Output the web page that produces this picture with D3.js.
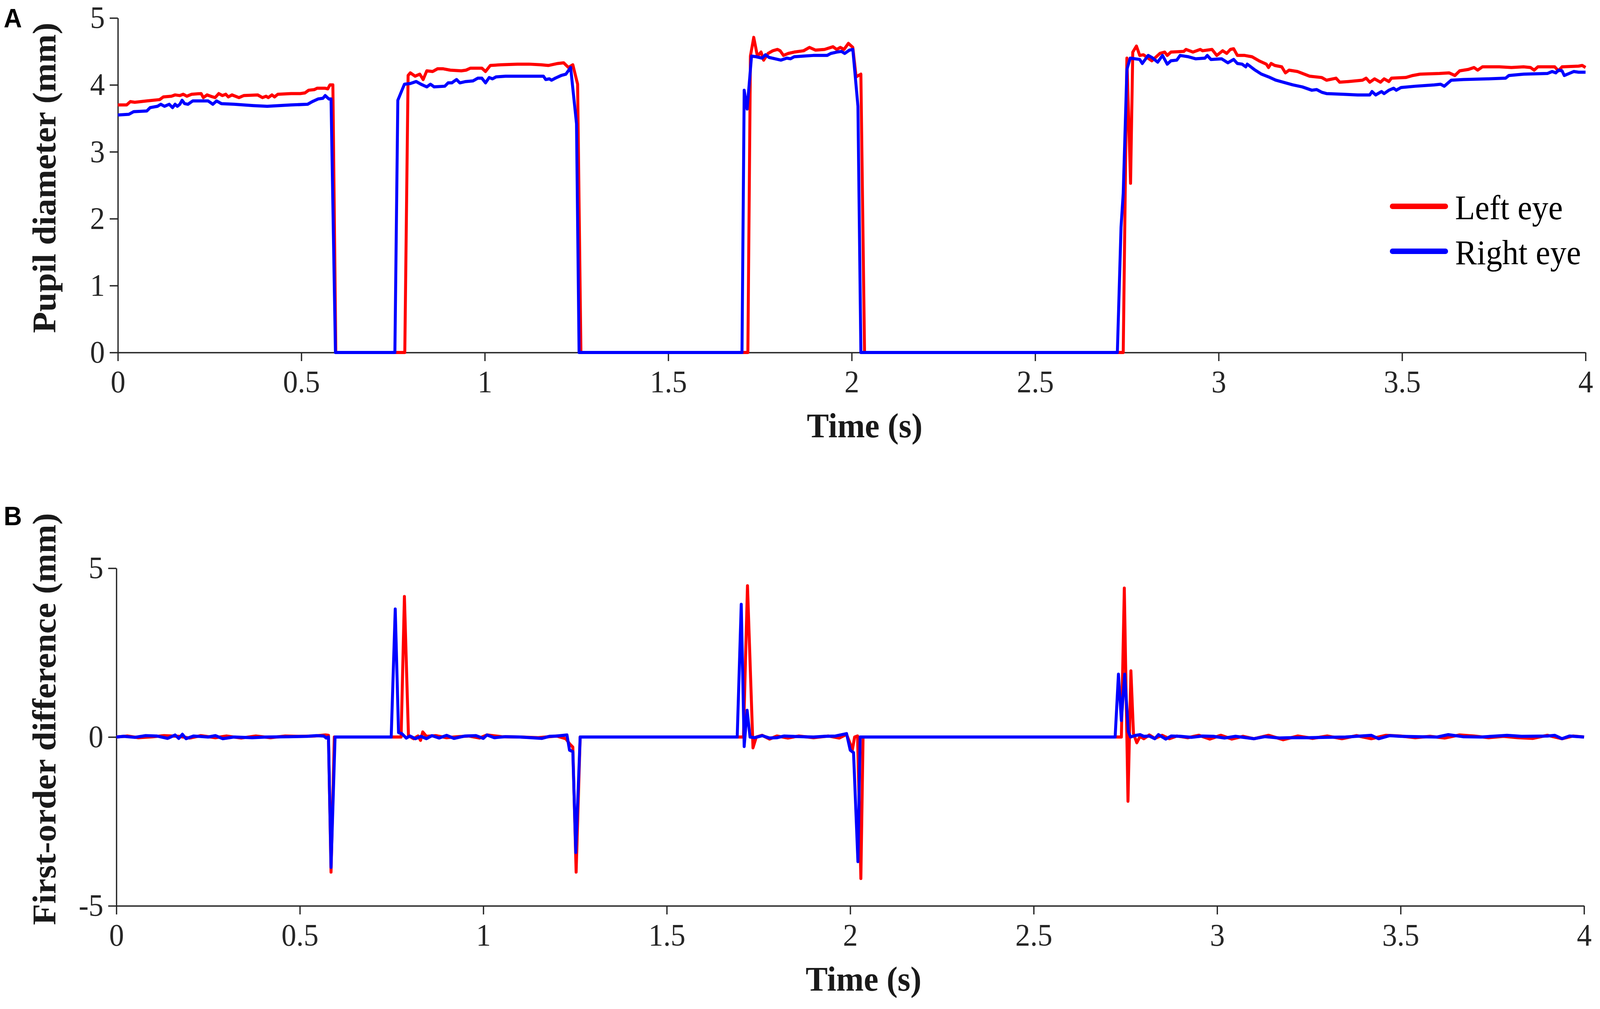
<!DOCTYPE html>
<html>
<head>
<meta charset="utf-8">
<script src="https://cdn.jsdelivr.net/npm/d3@7"></script>
<style>
  html, body { margin: 0; padding: 0; background: #ffffff; overflow: hidden; width: 100%; height: 100%; }
  svg { display: block; width: 100vw; height: 100vh; }
</style>
</head>
<body>
<script>
// ---------------- DATA ----------------
const seriesNames = ["Left eye", "Right eye"];
const seriesColors = ["#ff0000", "#0000ff"];

const timeTicks = [0, 0.5, 1, 1.5, 2, 2.5, 3, 3.5, 4];
const timeTickLabels = ["0", "0.5", "1", "1.5", "2", "2.5", "3", "3.5", "4"];
const pupilTicks = [0, 1, 2, 3, 4, 5];
const pupilTickLabels = ["0", "1", "2", "3", "4", "5"];
const diffTicks = [-5, 0, 5];
const diffTickLabels = ["-5", "0", "5"];

// Panel A: pupil diameter (mm) vs time (s)
const leftEyePupil = [
  [0,3.70],[0.024,3.70],[0.034,3.75],[0.046,3.74],[0.079,3.76],[0.114,3.78],[0.124,3.82],[0.146,3.83],
  [0.156,3.85],[0.169,3.84],[0.178,3.86],[0.188,3.83],[0.201,3.86],[0.227,3.87],[0.233,3.81],[0.243,3.85],
  [0.253,3.83],[0.265,3.81],[0.275,3.87],[0.285,3.84],[0.294,3.86],[0.301,3.82],[0.311,3.85],[0.330,3.81],
  [0.343,3.84],[0.381,3.85],[0.394,3.81],[0.404,3.83],[0.410,3.81],[0.420,3.85],[0.427,3.82],[0.436,3.86],
  [0.472,3.87],[0.497,3.87],[0.510,3.88],[0.520,3.92],[0.536,3.93],[0.543,3.95],[0.565,3.95],[0.572,3.94],
  [0.578,4.00],[0.586,4.00],[0.594,0],
  [0.782,0],[0.791,4.14],[0.797,4.18],[0.810,4.13],[0.823,4.16],[0.832,4.08],[0.842,4.21],[0.858,4.20],
  [0.871,4.24],[0.887,4.24],[0.906,4.22],[0.936,4.21],[0.949,4.22],[0.961,4.25],[0.992,4.25],[1.002,4.20],
  [1.015,4.29],[1.044,4.30],[1.089,4.31],[1.121,4.31],[1.153,4.30],[1.173,4.29],[1.199,4.32],[1.215,4.33],
  [1.228,4.26],[1.240,4.30],[1.253,4.01],[1.262,0],
  [1.717,0],[1.724,4.43],[1.733,4.71],[1.743,4.43],[1.753,4.49],[1.760,4.37],[1.772,4.47],[1.785,4.51],
  [1.798,4.53],[1.805,4.51],[1.814,4.44],[1.827,4.47],[1.843,4.49],[1.869,4.51],[1.885,4.56],[1.901,4.52],
  [1.926,4.53],[1.949,4.57],[1.959,4.53],[1.969,4.56],[1.979,4.53],[1.991,4.62],[2.003,4.56],[2.012,4.12],
  [2.025,4.16],[2.035,0],
  [2.740,0],[2.750,4.40],[2.760,2.53],[2.766,4.49],[2.776,4.58],[2.785,4.44],[2.795,4.45],[2.818,4.36],
  [2.840,4.47],[2.853,4.49],[2.860,4.44],[2.870,4.49],[2.905,4.50],[2.911,4.53],[2.930,4.49],[2.950,4.53],
  [2.956,4.51],[2.982,4.53],[2.995,4.44],[3.011,4.51],[3.022,4.47],[3.032,4.53],[3.041,4.54],[3.051,4.44],
  [3.071,4.44],[3.091,4.42],[3.110,4.36],[3.130,4.31],[3.136,4.26],[3.143,4.32],[3.153,4.29],[3.172,4.27],
  [3.182,4.18],[3.192,4.22],[3.215,4.20],[3.248,4.13],[3.281,4.11],[3.294,4.07],[3.320,4.10],[3.330,4.04],
  [3.353,4.05],[3.392,4.07],[3.402,4.10],[3.412,4.04],[3.425,4.09],[3.441,4.04],[3.451,4.09],[3.464,4.05],
  [3.471,4.10],[3.510,4.11],[3.529,4.14],[3.549,4.16],[3.602,4.17],[3.628,4.18],[3.644,4.14],[3.657,4.21],
  [3.680,4.23],[3.696,4.26],[3.706,4.22],[3.719,4.27],[3.765,4.27],[3.798,4.26],[3.831,4.27],[3.850,4.26],
  [3.860,4.22],[3.870,4.27],[3.916,4.27],[3.926,4.21],[3.936,4.27],[3.981,4.28],[3.991,4.29],[4.0,4.26]
];

const rightEyePupil = [
  [0,3.55],[0.030,3.56],[0.043,3.60],[0.079,3.61],[0.088,3.66],[0.108,3.68],[0.117,3.71],[0.127,3.68],
  [0.140,3.71],[0.149,3.66],[0.156,3.71],[0.162,3.68],[0.169,3.71],[0.175,3.77],[0.182,3.72],[0.191,3.71],
  [0.204,3.76],[0.246,3.76],[0.259,3.71],[0.269,3.76],[0.282,3.72],[0.317,3.71],[0.369,3.69],[0.407,3.68],
  [0.472,3.70],[0.517,3.71],[0.530,3.75],[0.546,3.79],[0.559,3.80],[0.565,3.84],[0.575,3.79],[0.581,3.79],
  [0.593,0],
  [0.755,0],[0.763,3.77],[0.781,4.01],[0.797,4.02],[0.813,4.05],[0.826,4.01],[0.842,3.97],[0.852,4.01],
  [0.862,3.97],[0.891,3.98],[0.900,4.03],[0.910,4.03],[0.923,4.08],[0.932,4.03],[0.948,4.05],[0.968,4.06],
  [0.981,4.10],[0.992,4.10],[1.002,4.03],[1.012,4.11],[1.021,4.09],[1.031,4.12],[1.057,4.13],[1.121,4.13],
  [1.160,4.13],[1.166,4.08],[1.176,4.09],[1.182,4.07],[1.192,4.10],[1.208,4.14],[1.221,4.16],[1.234,4.26],
  [1.250,3.42],[1.257,0],
  [1.701,0],[1.707,3.92],[1.715,3.64],[1.727,4.43],[1.740,4.42],[1.756,4.40],[1.765,4.45],[1.775,4.41],
  [1.791,4.39],[1.807,4.37],[1.823,4.40],[1.833,4.39],[1.843,4.42],[1.869,4.43],[1.895,4.44],[1.933,4.44],
  [1.943,4.47],[1.959,4.49],[1.972,4.50],[1.981,4.47],[1.994,4.52],[2.003,4.53],[2.017,3.68],[2.025,0],
  [2.724,0],[2.734,1.87],[2.740,2.38],[2.750,4.23],[2.759,4.40],[2.785,4.38],[2.792,4.32],[2.808,4.44],
  [2.818,4.41],[2.834,4.34],[2.847,4.44],[2.860,4.31],[2.870,4.36],[2.886,4.37],[2.895,4.44],[2.918,4.42],
  [2.937,4.39],[2.963,4.40],[2.969,4.44],[2.979,4.38],[3.008,4.39],[3.025,4.33],[3.041,4.38],[3.051,4.32],
  [3.064,4.31],[3.074,4.27],[3.078,4.31],[3.097,4.23],[3.117,4.16],[3.136,4.12],[3.156,4.07],[3.176,4.04],
  [3.202,4.00],[3.228,3.97],[3.254,3.92],[3.267,3.93],[3.281,3.89],[3.294,3.87],[3.340,3.86],[3.379,3.85],
  [3.412,3.85],[3.418,3.90],[3.428,3.85],[3.444,3.90],[3.451,3.87],[3.464,3.92],[3.477,3.95],[3.484,3.92],
  [3.497,3.96],[3.536,3.98],[3.588,4.00],[3.605,4.01],[3.615,3.98],[3.634,4.07],[3.667,4.08],[3.733,4.09],
  [3.782,4.10],[3.791,4.14],[3.831,4.16],[3.896,4.17],[3.909,4.20],[3.919,4.18],[3.926,4.22],[3.936,4.21],
  [3.942,4.14],[3.955,4.17],[3.968,4.20],[3.981,4.19],[4.0,4.19]
];

// Panel B: first-order difference (mm) vs time (s)
const leftEyeDiff = [
  [0,0],[0.03,0.03],[0.06,-0.02],[0.10,0.01],[0.13,0.04],[0.17,0.02],[0.20,-0.03],[0.23,0.04],[0.27,-0.02],
  [0.30,0.03],[0.34,-0.03],[0.38,0.03],[0.42,-0.02],[0.46,0.03],[0.50,0.02],[0.54,0.03],[0.57,0.06],
  [0.578,0.05],[0.585,-4.0],[0.594,0],
  [0.776,0],[0.785,4.16],[0.796,0.04],[0.81,-0.05],[0.822,0.03],[0.829,-0.10],[0.835,0.15],[0.845,0.02],
  [0.87,0.04],[0.90,-0.02],[0.93,0.01],[0.96,0.03],[0.99,-0.03],[1.01,0.06],[1.05,0.01],[1.10,0],
  [1.15,-0.02],[1.20,0.03],[1.225,-0.05],[1.235,-0.20],[1.244,-0.30],[1.253,-4.0],[1.264,0],
  [1.709,0],[1.720,4.48],[1.735,-0.32],[1.744,0],[1.76,0.05],[1.78,-0.06],[1.80,0.03],[1.83,-0.03],
  [1.86,0.03],[1.90,-0.02],[1.94,0.03],[1.97,-0.03],[1.99,0.08],[2.0,-0.2],[2.005,-0.43],[2.012,0],
  [2.02,0.03],[2.029,-4.19],[2.035,0],
  [2.739,0],[2.747,4.41],[2.757,-1.90],[2.765,1.96],[2.772,0.10],[2.781,-0.17],[2.79,0.02],[2.80,-0.05],
  [2.815,0.06],[2.83,-0.04],[2.85,0.05],[2.87,-0.05],[2.89,0.03],[2.92,-0.02],[2.95,0.05],[2.98,-0.06],
  [3.01,0.05],[3.04,-0.06],[3.07,0.02],[3.10,-0.05],[3.14,0.05],[3.18,-0.08],[3.22,0.03],[3.26,-0.04],
  [3.30,0.03],[3.34,-0.05],[3.38,0.04],[3.42,-0.05],[3.46,0.05],[3.50,0.03],[3.54,-0.02],[3.58,0.02],
  [3.62,-0.03],[3.66,0.06],[3.70,0.03],[3.74,-0.02],[3.78,0.02],[3.82,-0.02],[3.86,-0.04],[3.90,0.05],
  [3.94,-0.05],[3.97,0.03],[4.0,0]
];

const rightEyeDiff = [
  [0,0],[0.02,0.02],[0.05,-0.01],[0.08,0.04],[0.11,0.03],[0.14,-0.04],[0.16,0.06],[0.17,-0.04],[0.18,0.08],
  [0.19,-0.05],[0.21,0.03],[0.25,0],[0.27,0.04],[0.29,-0.05],[0.32,0],[0.37,-0.02],[0.41,0],[0.47,0.01],
  [0.52,0.02],[0.545,0.04],[0.565,0.03],[0.572,-0.03],[0.578,0],[0.585,-3.86],[0.596,0],
  [0.749,0],[0.760,3.79],[0.769,0.13],[0.778,0.10],[0.79,-0.03],[0.80,0.03],[0.815,-0.05],[0.83,0.02],
  [0.845,-0.05],[0.86,0.04],[0.88,-0.03],[0.90,0.05],[0.92,-0.04],[0.95,0.03],[0.98,0.04],[1.0,-0.04],
  [1.01,0.06],[1.03,-0.02],[1.06,0.01],[1.10,0],[1.16,-0.04],[1.18,0.02],[1.20,0.03],[1.228,0.06],
  [1.235,-0.39],[1.244,-0.43],[1.252,-3.42],[1.264,0],
  [1.692,0],[1.703,3.93],[1.711,-0.28],[1.719,0.79],[1.727,0],[1.74,-0.02],[1.76,0.04],[1.78,-0.03],
  [1.80,-0.02],[1.82,0.03],[1.84,0.02],[1.87,0.01],[1.90,0],[1.93,0.02],[1.96,0.03],[1.99,0.10],
  [2.0,-0.39],[2.009,-0.46],[2.021,-3.69],[2.027,0],
  [2.722,0],[2.731,1.86],[2.739,0.49],[2.748,1.86],[2.758,0.16],[2.764,0],[2.775,0.04],[2.79,0.07],
  [2.80,0.02],[2.815,0.03],[2.83,-0.05],[2.84,0.07],[2.86,-0.06],[2.875,0.03],[2.90,0.02],[2.93,-0.01],
  [2.96,0.03],[2.99,0.02],[3.02,-0.03],[3.05,0.02],[3.10,-0.05],[3.13,0.01],[3.17,-0.03],[3.20,-0.02],
  [3.25,-0.02],[3.30,-0.01],[3.35,0],[3.42,0.05],[3.44,-0.05],[3.47,0.04],[3.50,0.02],[3.55,0.01],
  [3.60,0],[3.63,0.07],[3.67,0.01],[3.72,0],[3.79,0.05],[3.83,0.02],[3.90,0.03],[3.92,0.05],
  [3.94,-0.05],[3.96,0.03],[4.0,0]
];

// ---------------- DRAWING ----------------
const W = 4317, H = 2582;
const serif = "'Liberation Serif','Times New Roman',Times,serif";
const sans = "'Liberation Sans',Arial,Helvetica,sans-serif";
const axisColor = "#262626";

const svg = d3.select("body").append("svg")
  .attr("viewBox", `0 0 ${W} ${H}`)
  .attr("preserveAspectRatio", "none");
svg.append("rect").attr("width", W).attr("height", H).attr("fill", "#fff");

function drawPanel(cfg) {
  const x = d3.scaleLinear().domain([0, 4]).range([cfg.x0, cfg.x1]);
  const y = d3.scaleLinear().domain(cfg.yDomain).range([cfg.yBottom, cfg.yTop]);
  const g = svg.append("g");

  const xAxis = d3.axisBottom(x)
    .tickValues(timeTicks)
    .tickFormat((d, i) => timeTickLabels[i])
    .tickSize(22).tickSizeOuter(0).tickPadding(23);
  const gx = g.append("g").attr("transform", `translate(0,${cfg.yBottom})`).call(xAxis);

  const yAxis = d3.axisLeft(y)
    .tickValues(cfg.yTicks)
    .tickFormat((d, i) => cfg.yTickLabels[i])
    .tickSize(22).tickSizeOuter(0).tickPadding(13);
  const gy = g.append("g").attr("transform", `translate(${cfg.x0},0)`).call(yAxis);

  [gx, gy].forEach(a => {
    a.select(".domain").attr("stroke", axisColor).attr("stroke-width", 3.5);
    a.selectAll(".tick line").attr("stroke", axisColor).attr("stroke-width", 3.5);
    a.selectAll(".tick text")
      .attr("fill", axisColor)
      .style("font-family", serif)
      .style("font-size", "80px");
  });

  // lines: left eye (red) first, right eye (blue) on top
  const line = d3.line().x(d => x(d[0])).y(d => y(d[1]));
  cfg.series.forEach((s, i) => {
    g.append("path")
      .datum(s)
      .attr("fill", "none")
      .attr("stroke", seriesColors[i])
      .attr("stroke-width", 8)
      .attr("stroke-linejoin", "round")
      .attr("stroke-linecap", "butt")
      .attr("d", line);
  });

  g.append("text")
    .attr("x", cfg.xTitleX).attr("y", cfg.yBottom + 217)
    .attr("text-anchor", "middle")
    .attr("fill", "#1a1a1a")
    .style("font-family", serif).style("font-weight", "bold").style("font-size", "89px")
    .text("Time (s)");

  g.append("text")
    .attr("transform", `translate(150,${cfg.yTitleY}) rotate(-90)`)
    .attr("text-anchor", "middle")
    .attr("fill", "#1a1a1a")
    .style("font-family", serif).style("font-weight", "bold").style("font-size", "89px")
    .text(cfg.yTitle);

  svg.append("text")
    .attr("x", 10).attr("y", cfg.labelY)
    .attr("fill", "#000")
    .style("font-family", sans).style("font-weight", "bold").style("font-size", "68px")
    .text(cfg.label);

  return { x, y };
}

drawPanel({
  x0: 318, x1: 4278, yBottom: 902, yTop: 46,
  yDomain: [0, 5], yTicks: pupilTicks, yTickLabels: pupilTickLabels,
  series: [leftEyePupil, rightEyePupil],
  yTitle: "Pupil diameter (mm)", yTitleY: 455,
  xTitleX: 2333, label: "A", labelY: 70
});

drawPanel({
  x0: 314, x1: 4274, yBottom: 2318, yTop: 1454,
  yDomain: [-5, 5], yTicks: diffTicks, yTickLabels: diffTickLabels,
  series: [leftEyeDiff, rightEyeDiff],
  yTitle: "First-order difference (mm)", yTitleY: 1840,
  xTitleX: 2330, label: "B", labelY: 1344
});

// legend (panel A)
const legend = svg.append("g");
seriesNames.forEach((name, i) => {
  const ly = 528 + i * 115;
  legend.append("line")
    .attr("x1", 3757).attr("x2", 3900).attr("y1", ly).attr("y2", ly)
    .attr("stroke", seriesColors[i]).attr("stroke-width", 14).attr("stroke-linecap", "round");
  legend.append("text")
    .attr("x", 3926).attr("y", ly + 33)
    .attr("fill", "#000")
    .style("font-family", serif).style("font-size", "88px")
    .text(name);
});
</script>
</body>
</html>
